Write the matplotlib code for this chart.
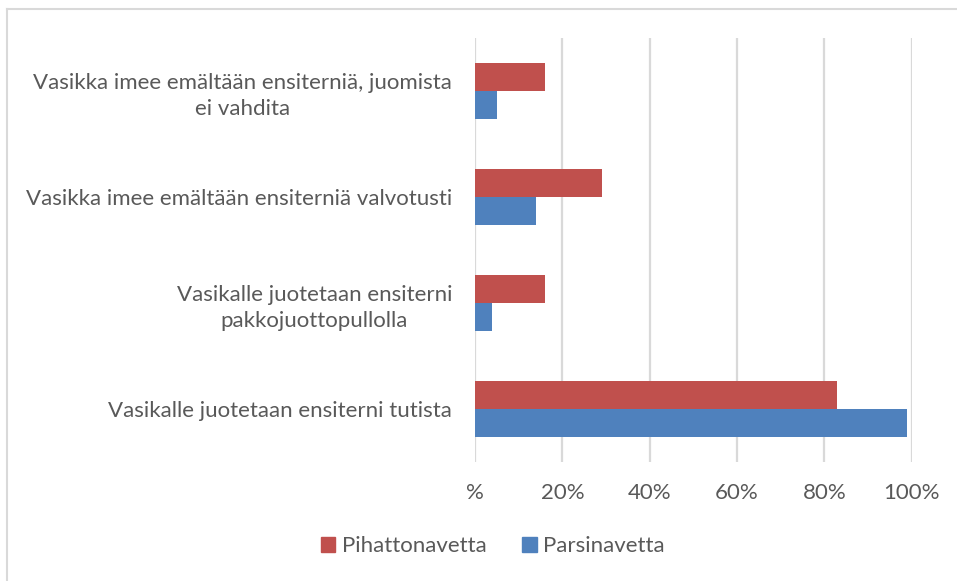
import matplotlib
matplotlib.use("Agg")
import matplotlib.pyplot as plt
from matplotlib.lines import Line2D
import numpy as np

categories = [
    "Vasikalle juotetaan ensiterni tutista",
    "Vasikalle juotetaan ensiterni\npakkojuottopullolla",
    "Vasikka imee emältään ensiterniä valvotusti",
    "Vasikka imee emältään ensiterniä, juomista\nei vahdita",
]
pihatto = [83, 16, 29, 16]
parsi = [99, 4, 14, 5]
series_names = ["Pihattonavetta", "Parsinavetta"]
xticks = [0, 20, 40, 60, 80, 100]
xtick_labels = ["%", "20%", "40%", "60%", "80%", "100%"]

RED = "#C0504D"
BLUE = "#4F81BD"
GRID = "#D9D9D9"
TXT = "#595959"
FONT = ["Lato", "DejaVu Sans"]
plt.rcParams["font.family"] = FONT

W, H = 957, 581
fig = plt.figure(figsize=(W / 100, H / 100), dpi=100)
ax = fig.add_axes([475 / W, 1 - 462 / H, (911.7 - 475) / W, (462 - 38) / H])

y = np.arange(len(categories))
h = 0.264
ax.barh(y + h / 2, pihatto, height=h, color=RED, label=series_names[0], zorder=3)
ax.barh(y - h / 2, parsi, height=h, color=BLUE, label=series_names[1], zorder=3)

ax.set_xlim(0, 100)
ax.set_ylim(-0.5, len(categories) - 0.5)
ax.set_xticks(xticks)
ax.set_xticklabels(xtick_labels, fontsize=16, color=TXT)
ax.set_yticks(y)
ax.set_yticklabels(categories, fontsize=16, color=TXT, multialignment="center",
                   linespacing=1.4)
ax.tick_params(axis="both", length=0)
ax.tick_params(axis="x", pad=15)
ax.tick_params(axis="y", pad=16.5)
for s in ax.spines.values():
    s.set_visible(False)
ax.grid(axis="x", color=GRID, linewidth=1.6, zorder=0)

handles = [
    plt.Rectangle((0, 0), 1, 1, color=RED),
    plt.Rectangle((0, 0), 1, 1, color=BLUE),
]
leg = fig.legend(handles, series_names, loc="center", bbox_to_anchor=(493 / W, 1 - 546 / H),
                 ncol=2, frameon=False, fontsize=16, handlelength=0.65, handleheight=0.65,
                 handletextpad=0.3, columnspacing=1.6)
for t in leg.get_texts():
    t.set_color(TXT)

# outer chart frame (partially cropped)
fig.add_artist(Line2D([7.5 / W, 1], [1 - 9 / H, 1 - 9 / H], color=GRID, linewidth=1.5,
                      transform=fig.transFigure))
fig.add_artist(Line2D([7.5 / W, 7.5 / W], [0, 1 - 9 / H], color=GRID, linewidth=1.5,
                      transform=fig.transFigure))

fig.savefig("out.png", dpi=100)
